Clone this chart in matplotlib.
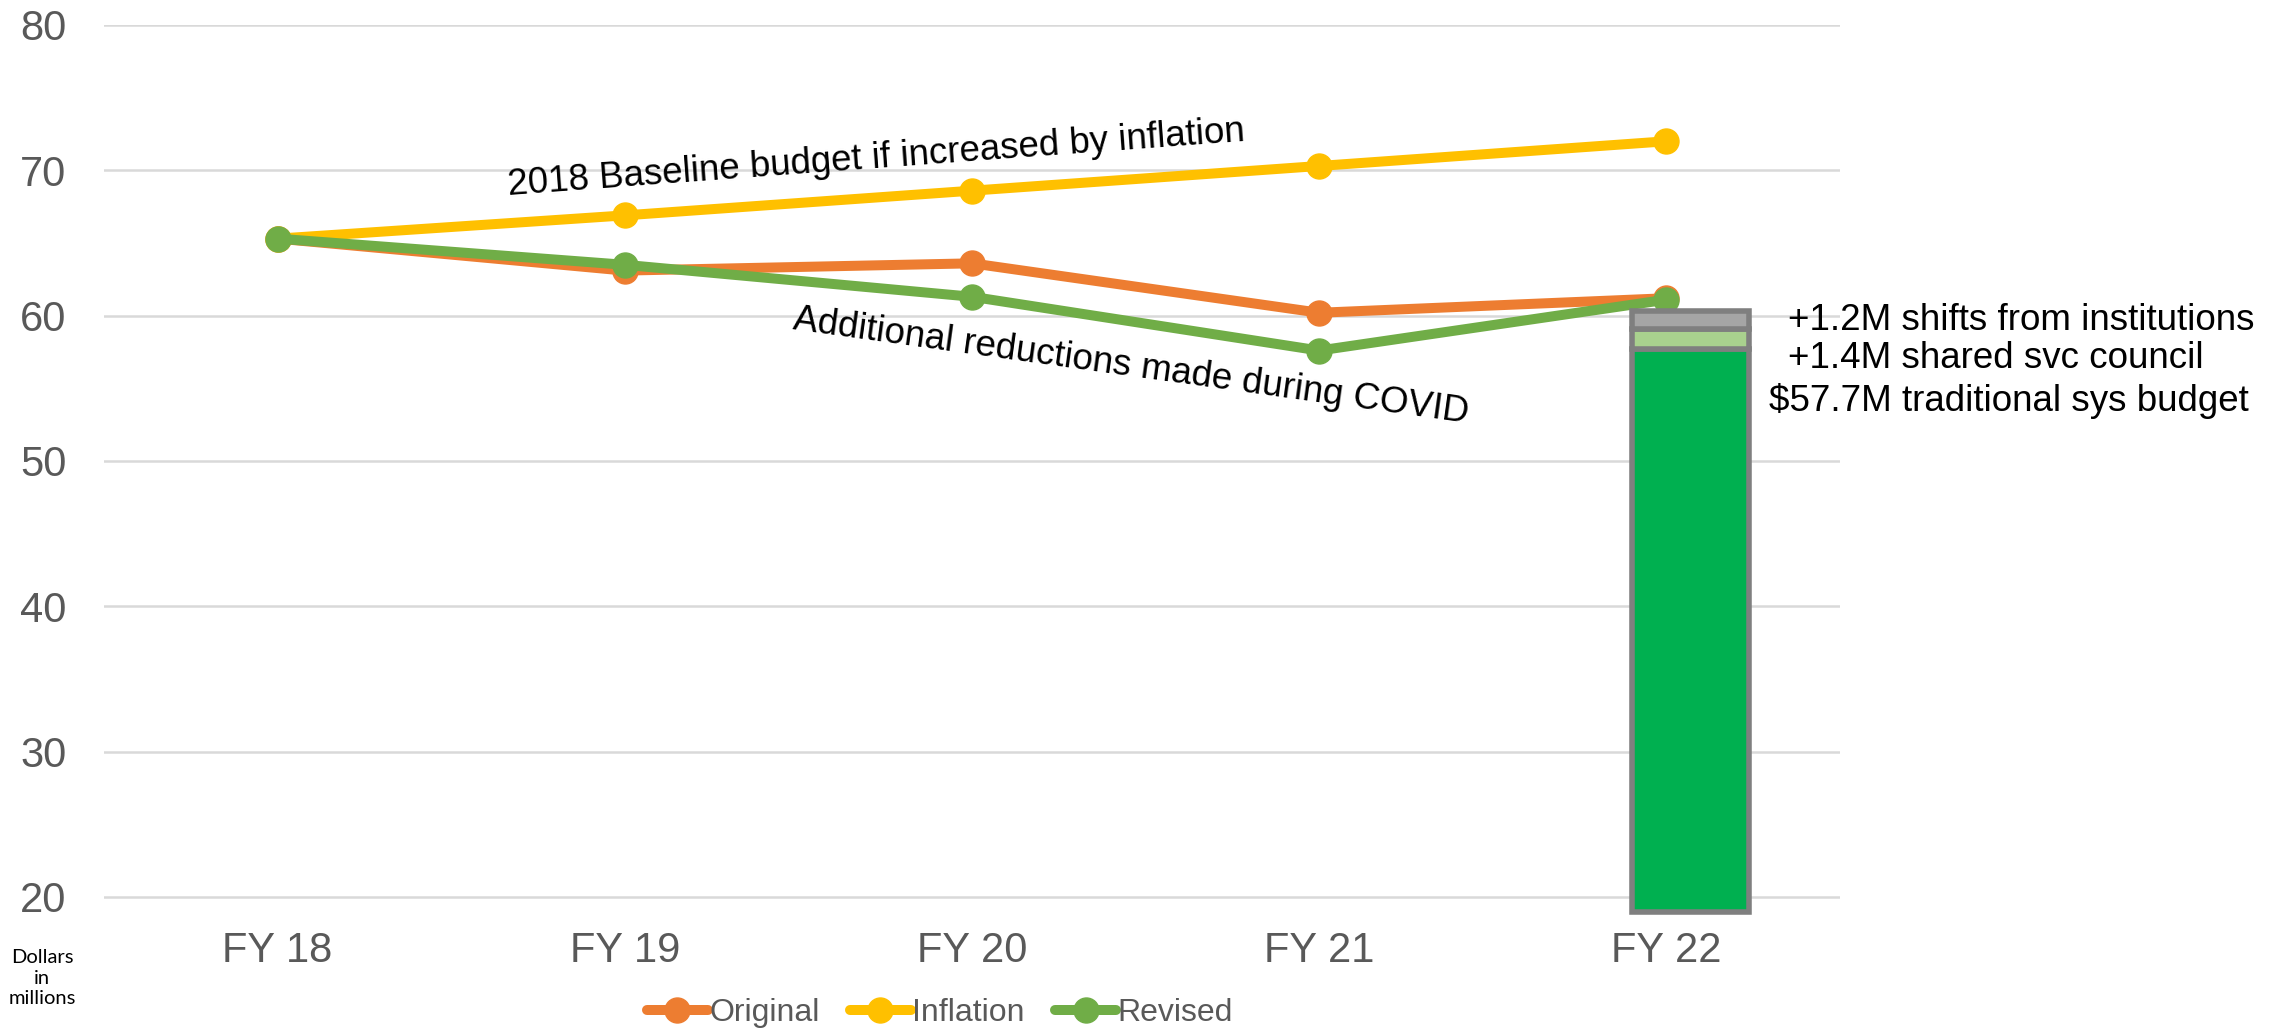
import matplotlib.pyplot as plt
from matplotlib.lines import Line2D

# budget trend, dollars in millions
categories = ['FY 18', 'FY 19', 'FY 20', 'FY 21', 'FY 22']
original = [65.3, 63.1, 63.6, 60.2, 61.2]
inflation = [65.3, 66.9, 68.6, 70.3, 72.0]
revised = [65.3, 63.5, 61.3, 57.6, 61.1]

# FY 22 composition (stacked)
fy22_parts = [57.7, 1.4, 1.2]
fy22_labels = ['$57.7M traditional sys budget', '+1.4M shared svc council',
               '+1.2M shifts from institutions']
fy22_colors = ['#00b050', '#a9d18e', '#a5a5a5']

y_floor = 19.0

plt.rcParams['font.family'] = ['Liberation Sans', 'DejaVu Sans']

fig = plt.figure(figsize=(22.79, 10.30), dpi=100)
ax = fig.add_axes([104 / 2279, 1 - 911.5 / 1030, (1840 - 104) / 2279, (911.5 - 25) / 1030])

x = list(range(len(categories)))
series = [('Original', original, '#ed7d31'),
          ('Inflation', inflation, '#ffc000'),
          ('Revised', revised, '#70ad47')]
for name, vals, col in series:
    ax.plot(x, vals, color=col, lw=7.2, marker='o', ms=18,
            solid_capstyle='round', label=name, zorder=3)

# stacked bar for FY 22
bar_x = 4.07
bottom = y_floor
for i, (h, col) in enumerate(zip(fy22_parts, fy22_colors)):
    top = fy22_parts[0] if i == 0 else bottom + h
    ax.bar(bar_x, top - bottom, bottom=bottom, width=0.337, color=col,
           edgecolor='#7f7f7f', linewidth=4, zorder=4, clip_on=False)
    bottom = top

ax.set_xlim(-0.5, 4.5)
ax.set_ylim(y_floor, 80)
ax.set_yticks(range(20, 81, 10))
ax.set_xticks(x)
ax.set_xticklabels(categories)
ax.tick_params(axis='both', length=0, labelsize=30, labelcolor='#595959')
ax.tick_params(axis='y', pad=27)
ax.tick_params(axis='x', pad=14)
ax.grid(axis='y', color='#d9d9d9', lw=1.8)
ax.set_axisbelow(True)
for s in ax.spines.values():
    s.set_visible(False)

# annotations along the lines
ax.text(0.664, 68.3, '2018 Baseline budget if increased by inflation',
        fontsize=26.5, rotation=4.2, rotation_mode='anchor',
        ha='left', va='baseline', color='black')
ax.text(1.482, 59.08, 'Additional reductions made during COVID',
        fontsize=26.5, rotation=-7.9, rotation_mode='anchor',
        ha='left', va='baseline', color='black')

# labels for the FY 22 components
label_pos = [(4.295, 53.44), (4.350, 56.40), (4.350, 59.01)]
for (lx, ly), txt in zip(label_pos, fy22_labels):
    ax.text(lx, ly, txt, fontsize=26.5, ha='left', va='baseline', color='black')

fig.text(42 / 2279, 1 - 978 / 1030, 'Dollars\nin\nmillions', fontsize=14.5,
         ha='center', va='center', linespacing=1.25, family=['Lato', 'DejaVu Sans'])

handles = [Line2D([0], [0], color=c, lw=7.2, marker='o', ms=18,
                  solid_capstyle='round') for _, _, c in series]
leg = fig.legend(handles, [s[0] for s in series], loc='center left',
                 bbox_to_anchor=(647 / 2279, 1 - 1013 / 1030), ncol=3,
                 frameon=False, borderpad=0, borderaxespad=0,
                 handlelength=1.9, handletextpad=0.05, columnspacing=0.95,
                 prop={'size': 23})
for t in leg.get_texts():
    t.set_color('#595959')

fig.savefig('out.png', dpi=100)
